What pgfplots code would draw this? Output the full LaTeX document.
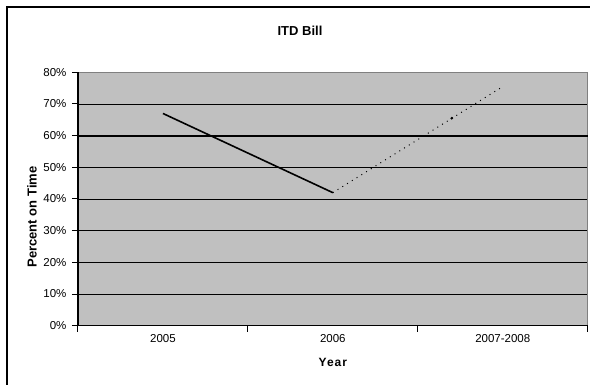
\documentclass[border=0pt]{standalone}
\usepackage{pgfplots}
\pgfplotsset{compat=1.18}
\usepackage{fontspec}
\setmainfont{Liberation Sans}
\definecolor{plotgray}{HTML}{C0C0C0}
\definecolor{framegray}{HTML}{808080}
\begin{document}
\begin{tikzpicture}[x=1pt,y=1pt]
\useasboundingbox (0,0) rectangle (590,385);
% chart frame (extends past the page on the right and bottom)
\draw[black,line width=2pt] (7.3,-20) -- (7.3,378) -- (610,378);
\begin{axis}[
  at={(78pt,59.3pt)}, anchor=south west,
  width=509.7pt, height=253.4pt, scale only axis,
  xmin=0, xmax=3, ymin=0, ymax=80,
  axis background/.style={fill=plotgray},
  axis line style={draw=framegray, line width=1.5pt},
  /pgf/number format/assume math mode=true,
  tick align=outside,
  xtick pos=bottom, ytick pos=left,
  xtick={0,1,2,3}, xticklabels={},
  major tick length=6pt,
  tick style={black, line width=1pt},
  extra x ticks={0.5,1.5,2.5},
  extra x tick labels={2005,2006,2007-2008},
  extra x tick style={major tick length=0pt, grid=none},
  xticklabel style={font=\fontsize{11.5}{13}\selectfont, yshift=-5pt},
  ytick={0,10,...,80},
  yticklabel={\pgfmathprintnumber{\tick}\%},
  yticklabel style={font=\fontsize{11.5}{13}\selectfont, xshift=-2pt},
  ymajorgrids, grid style={black, line width=0.8pt},
  xlabel={\addfontfeatures{LetterSpace=8}Year},
  xlabel style={font=\fontsize{12}{14}\selectfont\bfseries, at={(axis description cs:0.5,-0.146)}, anchor=center},
  ylabel={Percent on Time},
  ylabel style={font=\fontsize{13}{15}\selectfont\bfseries, at={(axis description cs:-0.0903,0.429)}, anchor=center},
  title={ITD Bill},
  title style={font=\fontsize{13}{15}\selectfont\bfseries, at={(axis description cs:0.4356,1.139)}, anchor=center},
  clip=false,
]
% heavier 60% gridline
\draw[black, line width=1.8pt] (axis cs:0,60) -- (axis cs:3,60);
% reported values
\addplot[black, line width=1.6pt, mark=none] coordinates {(0.5,67) (1.5,42)};
% projected values
\addplot[black, line width=1pt, dash pattern=on 1pt off 4.6pt, mark=none] coordinates {(1.5,42) (2.5,75.5)};
\addplot[black, only marks, mark=*, mark size=1.2pt] coordinates {(2.2,65.5)};
% left and bottom axis lines
\draw[black, line width=1.5pt] (rel axis cs:0,1) -- (rel axis cs:0,0) -- (rel axis cs:1,0);
\end{axis}
\end{tikzpicture}
\end{document}
